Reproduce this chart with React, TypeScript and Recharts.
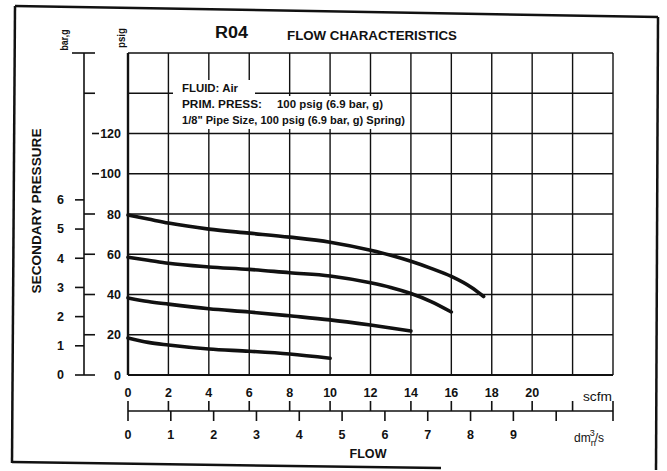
import { LineChart, Line, XAxis, YAxis, CartesianGrid, ReferenceLine } from 'recharts';

// flow in scfm, secondary pressure in psig
const curve80 = [
  { x: 0, p: 79.5 }, { x: 1, p: 77.5 }, { x: 2, p: 75.5 }, { x: 4, p: 72.5 },
  { x: 6, p: 70.5 }, { x: 8, p: 68.5 }, { x: 10, p: 66 }, { x: 12, p: 62 },
  { x: 13, p: 59.5 }, { x: 14, p: 56.5 }, { x: 15, p: 53 }, { x: 16, p: 49 },
  { x: 17, p: 43.5 }, { x: 17.6, p: 39 },
];
const curve60 = [
  { x: 0, p: 58.5 }, { x: 1, p: 57 }, { x: 2, p: 55.5 }, { x: 4, p: 53.7 },
  { x: 6, p: 52.5 }, { x: 8, p: 50.8 }, { x: 10, p: 49.2 }, { x: 12, p: 45.8 },
  { x: 13, p: 43.5 }, { x: 14, p: 40.5 }, { x: 15, p: 36.5 }, { x: 16, p: 31.3 },
];
const curve40 = [
  { x: 0, p: 38.3 }, { x: 1, p: 36.5 }, { x: 2, p: 35.2 }, { x: 4, p: 32.9 },
  { x: 6, p: 31.3 }, { x: 8, p: 29.4 }, { x: 10, p: 27.4 }, { x: 12, p: 24.8 },
  { x: 14, p: 21.9 },
];
const curve20 = [
  { x: 0, p: 18.4 }, { x: 1, p: 16.2 }, { x: 2, p: 14.9 }, { x: 4, p: 12.9 },
  { x: 6, p: 11.8 }, { x: 8, p: 10.4 }, { x: 10, p: 8.3 },
];

const scfmTicks = [0, 2, 4, 6, 8, 10, 12, 14, 16, 18, 20, 22, 24];
const dmTicks = [0, 1, 2, 3, 4, 5, 6, 7, 8, 9, 10];
const psigTicks = [0, 20, 40, 60, 80, 100, 120, 140, 160];
const barTicks = [0, 1, 2, 3, 4, 5, 6];

const SCFM_PER_DM3S = 2.1189;
const PSIG_PER_BAR = 14.5038;

const FONT = '"Liberation Sans", Arial, sans-serif';
const INK = '#111';

function PsigTick({ x, y, payload }: any) {
  const v = payload.value;
  const short = v === 100 || v === 120;
  return (
    <g>
      {v === 160 && <line x1={x - 49} x2={x - 26} y1={y} y2={y} stroke={INK} strokeWidth={1.6} />}
      {v <= 140 && (
        <line x1={short ? x - 29 : x - 37} x2={short ? x - 22 : x - 26} y1={y} y2={y} stroke={INK} strokeWidth={1.6} />
      )}
      {v <= 120 && (
        <text x={x} y={y} dy={4.5} textAnchor="end" fontSize={12.5} fontWeight={700} fill={INK} fontFamily={FONT}>
          {v}
        </text>
      )}
    </g>
  );
}

function ScfmTick({ x, y, payload }: any) {
  const v = payload.value;
  return (
    <g>
      {v <= 20 && (
        <text x={x} y={y + 22} textAnchor="middle" fontSize={12.5} fontWeight={700} fill={INK} fontFamily={FONT}>
          {v}
        </text>
      )}
      <line x1={x} x2={x} y1={y + 26} y2={v === 24 ? y + 46 : y + 36} stroke={INK} strokeWidth={1.6} />
    </g>
  );
}

function Overlay() {
  return (
    <svg width={667} height={471} style={{ position: 'absolute', left: 0, top: 0, pointerEvents: 'none' }}>
      {/* scanned frame */}
      <g stroke={INK} strokeWidth={2.5} fill="none">
        <line x1={15} y1={6} x2={658} y2={17} />
        <line x1={15} y1={6} x2={12} y2={463} />
        <line x1={12} y1={462} x2={441} y2={468} />
        <line x1={658} y1={17} x2={656} y2={470} />
      </g>
      {/* info box */}
      <rect x={173} y={80} width={82} height={18} fill="#fff" />
      <rect x={173} y={96} width={235} height={33} fill="#fff" />
      <g fontFamily={FONT} fontWeight={700} fill={INK} fontSize={10}>
        <text x={182} y={92} textLength={56} lengthAdjust="spacingAndGlyphs">FLUID: Air</text>
        <text x={182} y={108} textLength={80} lengthAdjust="spacingAndGlyphs">PRIM. PRESS:</text>
        <text x={277} y={108} textLength={106} lengthAdjust="spacingAndGlyphs">100 psig (6.9 bar, g)</text>
        <text x={182} y={124} textLength={223} lengthAdjust="spacingAndGlyphs">
          1/8" Pipe Size, 100 psig (6.9 bar, g) Spring)
        </text>
      </g>
      {/* title */}
      <g fontFamily={FONT} fontWeight={700} fill={INK}>
        <text x={215} y={38} fontSize={16} textLength={33} lengthAdjust="spacingAndGlyphs">R04</text>
        <text x={287} y={40} fontSize={13} textLength={170} lengthAdjust="spacingAndGlyphs">FLOW CHARACTERISTICS</text>
        <text transform="translate(41 211) rotate(-90)" textAnchor="middle" fontSize={13} textLength={165} lengthAdjust="spacingAndGlyphs">
          SECONDARY PRESSURE
        </text>
        <text transform="translate(68 40) rotate(-90)" textAnchor="middle" fontSize={11} textLength={21} lengthAdjust="spacingAndGlyphs">bar,g</text>
        <text transform="translate(125 38) rotate(-90)" textAnchor="middle" fontSize={11} textLength={20} lengthAdjust="spacingAndGlyphs">psig</text>
        <text x={583} y={401} fontSize={12} fontWeight={400} textLength={29} lengthAdjust="spacingAndGlyphs">scfm</text>
        <text x={574} y={442} fontSize={12} fontWeight={400}>
          dm<tspan dy={4} fontSize={9}>n</tspan>
          <tspan dx={-6} dy={-10} fontSize={9}>3</tspan>
          <tspan dy={6}>/s</tspan>
        </text>
        <text x={368} y={458} textAnchor="middle" fontSize={13} textLength={37} lengthAdjust="spacingAndGlyphs">FLOW</text>
      </g>
    </svg>
  );
}

export default function App() {
  const curveStyle = { stroke: INK, strokeWidth: 3.6, strokeLinecap: 'round' as const };
  return (
    <div style={{ position: 'absolute', left: 0, top: 0, width: 667, height: 471, background: '#fff' }}>
      <LineChart width={667} height={471} margin={{ top: 53, right: 54, bottom: 10, left: 44 }}>
        <CartesianGrid xAxisId="a_scfm" yAxisId="a_psig" stroke={INK} strokeWidth={1.4} />
        <XAxis
          xAxisId="b_dm"
          dataKey="x"
          type="number"
          domain={[0, 24 / SCFM_PER_DM3S]}
          allowDataOverflow
          ticks={dmTicks}
          interval={0}
          height={50}
          tickSize={10}
          tickMargin={9}
          tickFormatter={(v: number) => (v === 10 ? '' : String(v))}
          axisLine={{ stroke: INK, strokeWidth: 1.6 }}
          tickLine={{ stroke: INK, strokeWidth: 1.6 }}
          tick={{ fontSize: 12.5, fontWeight: 700, fill: INK, fontFamily: FONT }}
        />
        <XAxis
          xAxisId="a_scfm"
          dataKey="x"
          type="number"
          domain={[0, 24]}
          ticks={scfmTicks}
          interval={0}
          height={36}
          axisLine={false}
          tickLine={false}
          tickSize={0}
          tickMargin={0}
          tick={<ScfmTick />}
        />
        <YAxis
          yAxisId="b_bar"
          type="number"
          domain={[0, 160 / PSIG_PER_BAR]}
          allowDataOverflow
          ticks={barTicks}
          interval={0}
          width={40}
          tickSize={9}
          tickMargin={11}
          axisLine={{ stroke: INK, strokeWidth: 1.6 }}
          tickLine={{ stroke: INK, strokeWidth: 1.6 }}
          tick={{ fontSize: 12.5, fontWeight: 700, fill: INK, fontFamily: FONT }}
        />
        <YAxis
          yAxisId="a_psig"
          type="number"
          domain={[0, 160]}
          ticks={psigTicks}
          interval={0}
          width={44}
          axisLine={false}
          tickLine={false}
          tickSize={0}
          tickMargin={7}
          tick={<PsigTick />}
        />
        <ReferenceLine xAxisId="a_scfm" yAxisId="a_psig" x={0} stroke={INK} strokeWidth={2.4} />
        <ReferenceLine xAxisId="a_scfm" yAxisId="a_psig" y={0} stroke={INK} strokeWidth={2.2} />
        <Line xAxisId="a_scfm" yAxisId="a_psig" data={curve80} dataKey="p" type="monotone" dot={false} isAnimationActive={false} {...curveStyle} />
        <Line xAxisId="a_scfm" yAxisId="a_psig" data={curve60} dataKey="p" type="monotone" dot={false} isAnimationActive={false} {...curveStyle} />
        <Line xAxisId="a_scfm" yAxisId="a_psig" data={curve40} dataKey="p" type="monotone" dot={false} isAnimationActive={false} {...curveStyle} />
        <Line xAxisId="a_scfm" yAxisId="a_psig" data={curve20} dataKey="p" type="monotone" dot={false} isAnimationActive={false} {...curveStyle} />
      </LineChart>
      <Overlay />
    </div>
  );
}
